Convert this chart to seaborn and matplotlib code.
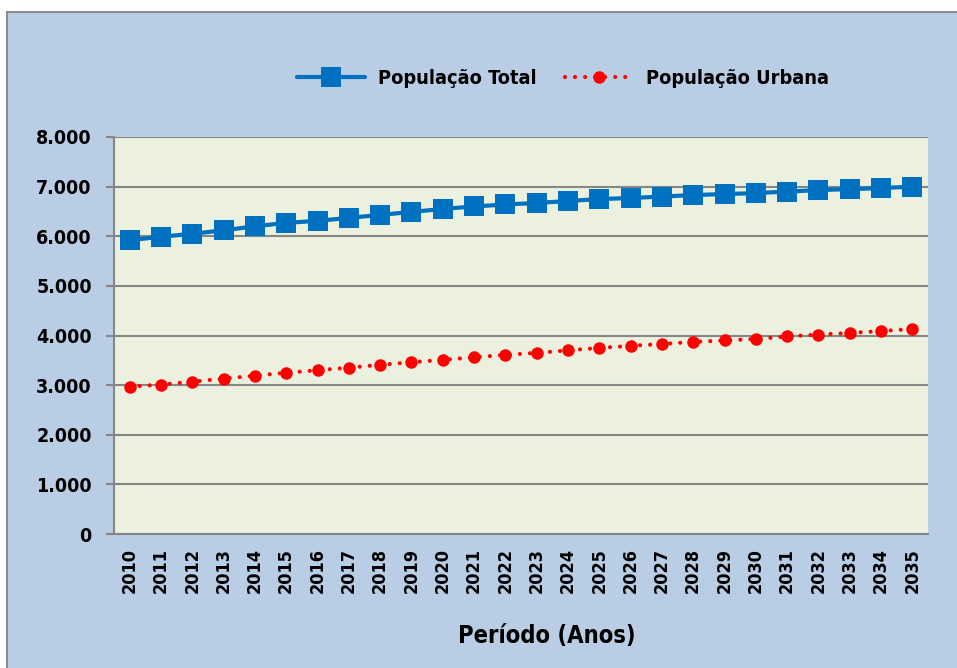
import matplotlib
matplotlib.use("Agg")
import matplotlib.pyplot as plt
import matplotlib.ticker as mticker
from matplotlib import font_manager
from matplotlib.patches import Rectangle
import pandas as pd
import seaborn as sns

anos = list(range(2010, 2036))
pop_total = [5920, 5990, 6050, 6120, 6200, 6270, 6310, 6370, 6430, 6490,
             6550, 6600, 6640, 6670, 6710, 6750, 6770, 6800, 6830, 6850,
             6870, 6900, 6930, 6950, 6970, 7000]
pop_urbana = [2970, 3010, 3070, 3130, 3190, 3250, 3300, 3350, 3410, 3460,
              3510, 3560, 3610, 3650, 3700, 3750, 3790, 3830, 3870, 3900,
              3930, 3980, 4020, 4050, 4090, 4130]
y_ticks = [0, 1000, 2000, 3000, 4000, 5000, 6000, 7000, 8000]

df = pd.DataFrame({"ano": anos, "total": pop_total, "urbana": pop_urbana})

# DejaVu Sans condensed is the narrowest bold face available here
tem_cond = any(f.name == "DejaVu Sans" and f.stretch == "condensed"
               for f in font_manager.fontManager.ttflist)

sns.set_style("white")
plt.rcParams["font.family"] = ["DejaVu Sans"]
plt.rcParams["font.stretch"] = "condensed" if tem_cond else "normal"
plt.rcParams["font.weight"] = "bold"
plt.rcParams["text.color"] = "black"
esc = 1.0 if tem_cond else 0.9

fig = plt.figure(figsize=(9.57, 6.68), dpi=100)
fig.patch.set_facecolor("white")
fundo = Rectangle((7 / 957, -0.01), 1.0, 1 - 12 / 668 + 0.01,
                  transform=fig.transFigure, facecolor="#B9CDE5",
                  edgecolor="#8C8C8C", linewidth=1.5, zorder=-10)
fig.add_artist(fundo)

ax = fig.add_axes([114 / 957, 1 - 534 / 668, (928 - 114) / 957, (534 - 137) / 668])
ax.set_facecolor("#EBF1DE")

sns.lineplot(data=df, x="ano", y="total", ax=ax, color="#0070C0", linewidth=3,
             marker="s", markersize=14.5, markeredgewidth=0, label="População Total",
             zorder=3)
sns.lineplot(data=df, x="ano", y="urbana", ax=ax, color="#FF0000", linewidth=3,
             linestyle=(0, (0.01, 2.4)), marker="o", markersize=9,
             markeredgewidth=0, label="População Urbana", zorder=3)
for ln in ax.get_lines():
    ln.set_dash_capstyle("round")

ax.set_xlim(2009.5, 2035.5)
ax.set_ylim(0, 8000)
ax.set_yticks(y_ticks)
ax.yaxis.set_major_formatter(mticker.FuncFormatter(lambda v, p: f"{int(v):,}".replace(",", ".")))
ax.set_xticks(anos)
ax.set_xticks([a + 0.5 for a in [anos[0] - 1] + anos], minor=True)
ax.set_xticklabels([str(a) for a in anos], rotation=90, fontsize=13 * esc,
                   fontweight="bold", color="black")
for lab in ax.get_yticklabels():
    lab.set_fontsize(14 * esc)
    lab.set_fontweight("bold")
    lab.set_color("black")

ax.grid(axis="y", color="#868686", linewidth=1.5)
ax.set_axisbelow(True)
ax.tick_params(axis="x", which="major", length=0, pad=10)
ax.tick_params(axis="x", which="minor", length=6, width=1.5, color="#868686", direction="out")
ax.tick_params(axis="y", length=6, width=1.5, color="#868686", direction="out", pad=10, left=True)
for s in ["top", "right"]:
    ax.spines[s].set_visible(False)
for s in ["left", "bottom"]:
    ax.spines[s].set_color("#868686")
    ax.spines[s].set_linewidth(1.5)
ax.set_xlabel("")
ax.set_ylabel("")

handles, labels = ax.get_legend_handles_labels()
ax.get_legend().remove()
fig.legend(handles, labels, loc="center", bbox_to_anchor=(563 / 957, 1 - 78 / 668),
           ncol=2, frameon=False, handlelength=3.4, handletextpad=0.65, columnspacing=1.45,
           prop={"size": 14.3 * esc, "weight": "bold"}, labelcolor="black")

fig.text(547 / 957, 1 - 636 / 668, "Período (Anos)", ha="center", va="center",
         fontsize=17 * esc, fontweight="bold", color="black")

fig.savefig("out.png", dpi=100)
